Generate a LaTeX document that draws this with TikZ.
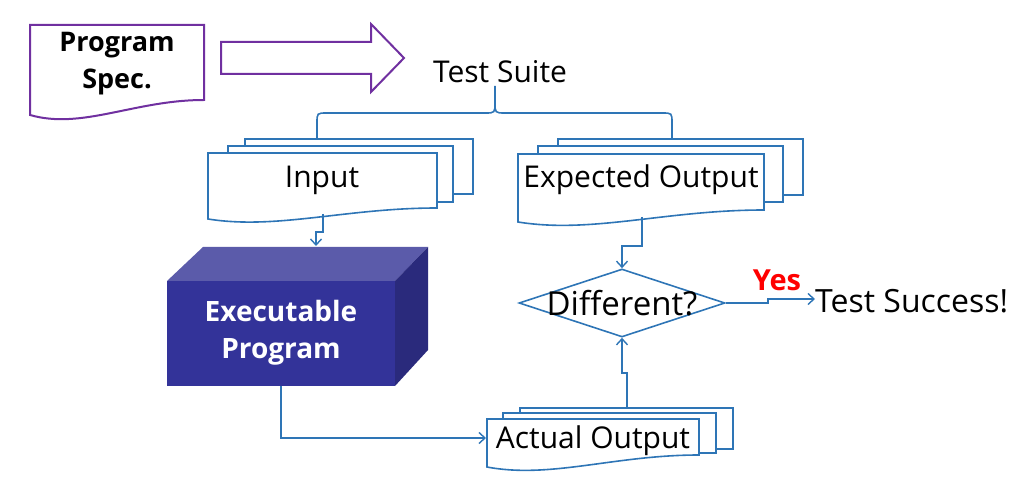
\documentclass[tikz,border=0pt]{standalone}
\usepackage{fontspec}
\setmainfont{Open Sans}
\usetikzlibrary{arrows.meta,shapes.geometric,calc}
\definecolor{lblue}{HTML}{2E75B6}
\definecolor{specpurple}{HTML}{7030A0}
\definecolor{cubefront}{HTML}{333399}
\definecolor{cubetop}{HTML}{5B5BAA}
\definecolor{cubeside}{HTML}{2A2A7C}
\definecolor{yesred}{HTML}{FF0000}
\newcommand\docshape[6][]{%
  \pgfmathsetmacro\dw{#4-#2}\pgfmathsetmacro\dd{#6-#5}%
  \draw[#1] (#2,#3) -- (#4,#3) -- (#4,#5) .. controls ({#2+0.6*\dw},{#5}) and ({#2+0.3*\dw},{#6+1.0*\dd}) .. (#2,#6) -- cycle;}
\tikzset{
  line/.style={draw=lblue, line width=1.6pt},
  conn/.style={line, -{Straight Barb[length=6pt,width=11pt,line width=1.4pt]}},
  txt/.style={font=\fontsize{30}{37}\selectfont, inner sep=0pt, text=black},
  btxt/.style={font=\fontsize{27}{37}\selectfont\bfseries, inner sep=0pt, align=center},
}
\begin{document}
\begin{tikzpicture}[x=1pt,y=-1pt]
\useasboundingbox (0,0) rectangle (1022,478);
% Program spec
\docshape[draw=specpurple, line width=2pt, fill=white]{30}{25}{204}{100}{115}
\node[btxt] (spec) at (117,64) {Program\\Spec.};
% big arrow
\draw[specpurple, line width=2pt] (221,42) -- (371,42) -- (371,24) -- (404,58) -- (371,92) -- (371,74) -- (221,74) -- cycle;
\node[txt, anchor=center] (suite) at (500,72) {Test Suite};
% Input docs
\draw[line] (245,146) -- (245,139) -- (473,139) -- (473,194) -- (453,194);
\draw[line] (228,153) -- (228,146) -- (453,146) -- (453,202) -- (437,202);
\docshape[line, fill=white]{208}{153}{437}{208}{219}
\node[txt] (input) at (322,180) {Input};
\coordinate (inputtop) at (317,139);
\coordinate (inputbot) at (323,214);
% Expected docs
\draw[line] (558,146) -- (558,139) -- (803,139) -- (803,195) -- (783,195);
\draw[line] (538,154) -- (538,146) -- (783,146) -- (783,202) -- (764,202);
\docshape[line, fill=white]{518}{154}{764}{210}{222}
\node[txt] (expected) at (641,180) {Expected Output};
\coordinate (exptop) at (672,139);
\coordinate (expbot) at (642,217);
% brace
\coordinate (bracetip) at (495,102);
\coordinate (stem) at (495,86);
\draw[line] (stem) -- (bracetip) .. controls (495,113) .. (485,113) -- (327,113) .. controls (317,113) .. (317,123) -- (inputtop);
\draw[line] (bracetip) .. controls (495,113) .. (505,113) -- (662,113) .. controls (672,113) .. (672,123) -- (exptop);
% Cube
\fill[cubetop] (167,281) -- (203,247) -- (428,247) -- (395,281) -- cycle;
\fill[cubeside] (395,281) -- (428,247) -- (428,350) -- (395,386) -- cycle;
\fill[cubefront] (167,281) rectangle (395,386);
\node[btxt, text=white, font=\fontsize{28}{37}\selectfont\bfseries] (exec) at (281,333) {Executable\\Program};
\coordinate (exectop) at (316,246);
\coordinate (execbot) at (281,386);
% Actual output docs
\draw[line] (520,413) -- (520,408) -- (733,408) -- (733,449) -- (716,449);
\draw[line] (503,419) -- (503,413) -- (716,413) -- (716,453) -- (699,453);
\docshape[line, fill=white]{487}{419}{699}{455}{467}
\node[txt] (actual) at (593,441) {Actual Output};
\coordinate (actin) at (486,438);
\coordinate (acttop) at (627,408);
% diamond
\node[diamond, draw=lblue, line width=1.6pt, minimum width=206pt, minimum height=68pt, inner sep=0pt] (diff) at (622,303) {};
\node[txt, font=\fontsize{33}{37}\selectfont] (difftxt) at (622,303) {Different?};
\node[txt, anchor=west, font=\fontsize{32}{37}\selectfont] (succ) at (815,301) {Test Success!};
\node[font=\fontsize{29}{34}\selectfont\bfseries, text=yesred, inner sep=0pt] (yes) at (777,280) {Yes};
% connectors
\draw[conn] (inputbot) -- (323,232) -- (316,232) -- (exectop);
\draw[conn] (execbot) |- (actin);
\draw[conn] (acttop) -- (627,373) -- (622,373) -- (diff.south);
\draw[conn] (expbot) -- (642,246) -| (diff.north);
\draw[conn] (diff.east) -- (768,303) -- (768,299) -- (succ.west |- 0,299);
\end{tikzpicture}
\end{document}
